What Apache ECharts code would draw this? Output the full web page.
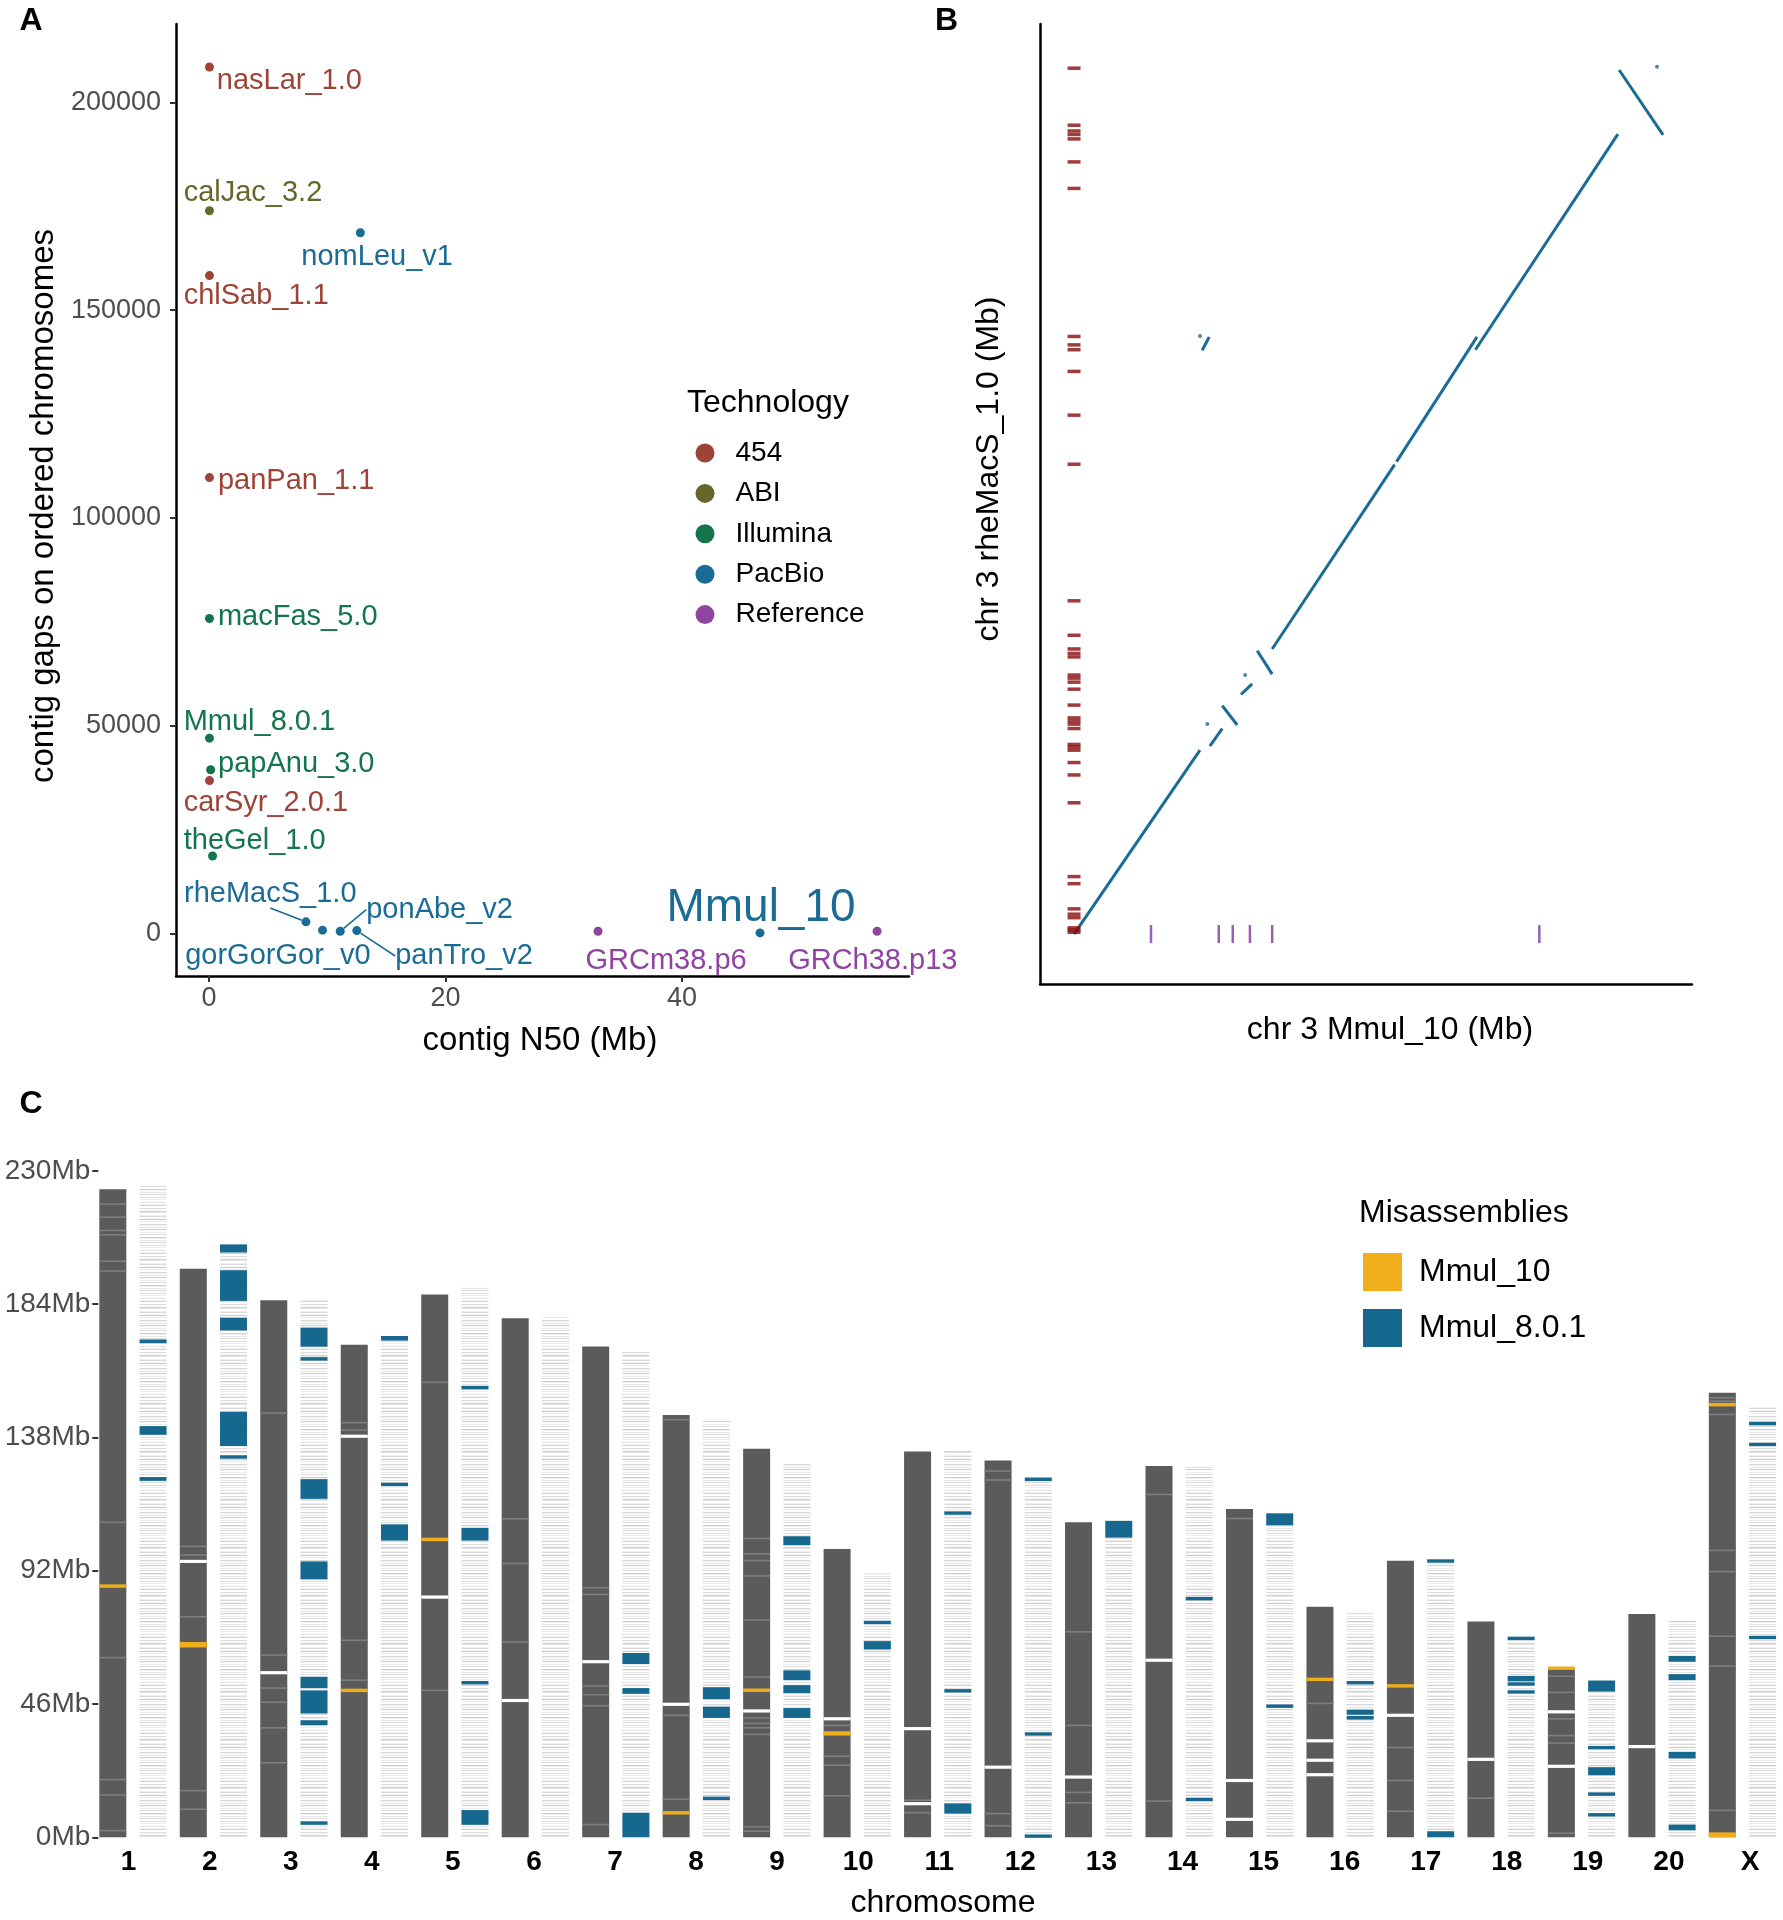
<!DOCTYPE html>
<html>
<head>
<meta charset="utf-8">
<script src="https://cdn.jsdelivr.net/npm/echarts@6/dist/echarts.min.js"></script>
<style>
html,body{margin:0;padding:0;background:#fff;}
#chart{width:1783px;height:1920px;}
</style>
</head>
<body>
<div id="chart"></div>
<script>
const FONT = '"Liberation Sans", Arial, Helvetica, sans-serif';

// ---------------- Panel A data ----------------
const assemblies = ['nasLar_1.0','calJac_3.2','nomLeu_v1','chlSab_1.1','panPan_1.1','macFas_5.0','Mmul_8.0.1','papAnu_3.0','carSyr_2.0.1','theGel_1.0','rheMacS_1.0','gorGorGor_v0','ponAbe_v2','panTro_v2','GRCm38.p6','Mmul_10','GRCh38.p13'];
const technology = ['454','ABI','PacBio','454','454','Illumina','Illumina','Illumina','454','Illumina','PacBio','PacBio','PacBio','PacBio','Reference','PacBio','Reference'];
const contigN50 = [0.04,0.04,12.8,0.04,0.04,0.04,0.04,0.14,0.04,0.3,8.2,9.6,11.1,12.5,32.9,46.6,56.5];
const contigGaps = [208500,173900,168600,158300,109700,75800,47000,39400,36800,18650,2800,800,550,700,550,150,550];
const techOrder = ['454','ABI','Illumina','PacBio','Reference'];
const xTicksA = [0,20,40];
const yTicksA = [0,50000,100000,150000,200000];

// ---------------- Panel B data (Mb) ----------------
const alignSegments = [
  [[0,0],[39.6,41.6]],
  [[42.7,42.5],[46.6,46.5]],
  [[46.6,51.7],[51.3,47.3]],
  [[52.5,54.2],[56.0,56.6]],
  [[57.6,64.1],[62.3,58.8]],
  [[62.3,64.5],[100.8,106.2]],
  [[101.4,106.9],[126.7,135.1]],
  [[126.2,132.2],[171.0,181.0]],
  [[171.4,195.5],[185.2,180.8]],
  [[40.3,132.1],[42.5,135.1]]
];
const alignDots = [[41.9,47.5],[53.8,58.6],[183.3,196.2],[39.6,135.3]];
const rheMacSGaps = [195.9,183.0,181.7,180.9,179.9,174.7,168.7,135.2,133.3,132.2,127.3,117.4,106.3,75.4,67.6,64.5,63.5,62.7,58.6,57.9,57.0,55.4,51.8,48.9,48.2,47.5,46.5,42.9,42.3,41.6,38.8,36.0,29.7,13.0,11.4,5.7,4.5,3.7,1.4,0.9,0.4];
const mmul10Chr3Gaps = [24.2,45.5,49.9,55.3,62.3,146.3];

// ---------------- Panel C data (Mb) ----------------
const chromosomes = ['1','2','3','4','5','6','7','8','9','10','11','12','13','14','15','16','17','18','19','20','X'];
const yTicksC = [0,46,92,138,184,230];
const mmul10Length = [223.6,196.2,185.3,170.0,187.3,179.1,169.4,145.7,134.1,99.5,133.1,130.0,108.7,128.1,113.3,79.6,95.4,74.5,58.3,77.1,153.4];
const mmul801Length = [224.8,204.6,185.7,173.0,190.1,179.8,168.1,144.1,128.9,91.0,133.5,124.4,109.2,127.9,111.8,77.3,95.8,69.1,54.1,75.0,148.4];
const mmul10Gaps = [
  [1,95.2],[2,56.8],[3,138.4],[4,82.9],[5,47.2],[6,60.6],[7,45.9],[8,43.6],[9,40.9],
  [10,37.5],[10,11.6],[11,24.2],[12,20.8],[13,61.1],[14,19.6],[14,6.2],
  [15,33.3],[15,26.6],[15,21.6],[16,42.1],[17,26.9],[18,43.3],[18,24.5],[19,31.3]
];
const mmul10MinorLines = [
  [0,218.5],[0,214],[0,209.4],[0,207.9],[0,198.8],[0,195.4],[0,108.7],[0,62],[0,19.9],[0,14.6],[0,2.3],
  [1,100.4],[1,97.4],[1,76.1],[1,16.1],[1,9.7],
  [2,146.4],[2,62.9],[2,51.5],[2,46.6],[2,37.8],[2,25.7],
  [3,143.1],[3,140.5],[3,68.0],[3,54.2],
  [4,157],[4,50.7],
  [5,109.9],[5,94.5],[5,67.4],
  [6,86.1],[6,83.8],[6,52.2],[6,49.2],[6,45.4],[6,4.4],
  [7,144.1],[7,42.1],[7,13.1],
  [8,103.1],[8,97.8],[8,95.5],[8,90.2],[8,75.0],[8,55.3],[8,41.2],[8,39.3],[8,37.8],[8,35.5],[8,3.6],[8,2.1],
  [9,38.6],[9,28],[9,24.9],[9,14.3],
  [10,12.8],[10,8.5],
  [11,126.4],[11,123.3],[11,8.2],[11,4.0],
  [12,70.9],[12,38.6],[12,15.5],[12,11.9],
  [13,118.3],[13,12.5],
  [14,110.0],
  [15,46.2],
  [16,31.0],[16,19.6],[16,9.0],
  [17,13.5],
  [18,55.6],[18,50.0],[18,40.9],[18,35.1],[18,32.5],[18,1.4],
  [20,151.7],[20,150.5],[20,145.9],[20,99.0],[20,91.7],[20,69.4],[20,59.1],[20,9.3]
];
const mmul10Misassemblies = [
  [0,86.2,87.2],[1,65.5,67.4],[3,50.1,51.3],[4,102.2,103.4],[7,7.9,9.0],[8,50.3,51.2],
  [9,35.1,36.6],[15,54.0,55.0],[16,51.8,52.7],[18,57.9,58.8],[20,148.7,149.9],[20,0,1.7]
];
const mmul801Misassemblies = [
  [0,170.5,171.8],[0,138.9,141.9],[0,123.0,124.3],
  [1,201.8,204.6],[1,185.1,195.7],[1,174.9,179.3],[1,135.0,146.8],[1,130.7,131.8],
  [2,169.3,175.9],[2,164.5,165.7],[2,116.8,123.6],[2,89.0,95.2],[2,51.5,55.4],[2,42.7,50.7],[2,38.7,40.4],[2,4.3,5.5],
  [3,171.4,173.0],[3,121.2,122.3],[3,102.4,108.0],
  [4,154.6,155.8],[4,102.4,106.8],[4,52.9,53.8],[4,4.3,9.4],
  [6,59.8,63.6],[6,49.5,51.5],[6,0,8.5],
  [7,47.7,51.8],[7,41.2,45.1],[7,12.9,14.0],
  [8,100.8,103.9],[8,54.2,57.6],[8,49.7,52.5],[8,41.2,44.6],
  [9,73.6,74.7],[9,64.8,67.7],
  [10,111.4,112.4],[10,50.1,51.0],[10,8.2,11.7],
  [11,123.0,124.0],[11,35.2,36.1],[11,0,0.8],
  [12,103.4,109.2],
  [13,81.9,82.8],[13,12.6,13.5],
  [14,107.7,111.8],[14,44.8,45.7],
  [15,52.9,53.8],[15,42.3,44.0],[15,40.6,41.9],
  [16,94.9,95.8],[16,0,2.1],
  [17,68.2,69.1],[17,53.8,55.7],[17,52.4,53.4],[17,49.7,50.6],
  [18,50.3,54.1],[18,30.5,31.4],[18,21.4,24.2],[18,14.4,15.4],[18,7.3,8.2],
  [19,60.6,62.6],[19,54.2,56.3],[19,27.2,29.5],[19,2.4,4.4],
  [20,142.3,143.2],[20,135.1,136.0],[20,68.5,69.4]
];

// ---------------- styling ----------------
const techColors = {'454':'#9E4338','ABI':'#66662A','Illumina':'#13754B','PacBio':'#1B6C95','Reference':'#8E44A0'};
const labelOffset = {
  'nasLar_1.0':[7.3,14],'calJac_3.2':[-25.8,-17.5],'nomLeu_v1':[-59,24.2],'chlSab_1.1':[-25.8,20.4],
  'panPan_1.1':[8.5,3.3],'macFas_5.0':[8.5,-1.6],'Mmul_8.0.1':[-25.8,-16],'papAnu_3.0':[7.4,-5.8],
  'carSyr_2.0.1':[-25.8,22.6],'theGel_1.0':[-28.8,-15],'rheMacS_1.0':[-121.9,-28.3],'gorGorGor_v0':[-137.3,25.7],
  'ponAbe_v2':[26,-21.7],'panTro_v2':[38.4,25.4],'GRCm38.p6':[-12.5,29.7],'Mmul_10':[-93.6,-25],'GRCh38.p13':[-88.9,29.7]
};
const leaderLine = {
  'rheMacS_1.0':[[0.4,-2],[-11.9,-18.3]],
  'ponAbe_v2':[[1.6,-5.3],[22,-15.6]],
  'panTro_v2':[[1.9,2.4],[35,20.4]]
};
const stripeLevels = [255,255,226,255,238,212,255,255,222,244,255,208,230,255,255,238,218,255,248,204,255,234,255,255,216,240,255,226,255,210,248,255,236,255,220,255,255,206,243,255,230,255,216,255,248,224,255,238];
const stripeCanvas = document.createElement('canvas');
stripeCanvas.width = 4; stripeCanvas.height = stripeLevels.length;
(function(){ const g = stripeCanvas.getContext('2d'); stripeLevels.forEach((v,i)=>{ g.fillStyle='rgb('+v+','+v+','+v+')'; g.fillRect(0,i,4,1); }); })();

const COL_OFF = 0.25, COL_W = 0.3355;
function colGeom(api, ci, col){
  const bw = api.size([1,0])[0];
  const c = api.coord([ci, 0]);
  const cx = c[0] + (col === 0 ? -bw*COL_OFF : bw*COL_OFF);
  const w = bw*COL_W;
  return {x: cx - w/2, w: w};
}
function bandRender(col, minPx, fillFn){
  return function(params, api){
    const ci = api.value(0);
    const g = colGeom(api, ci, col);
    const pb = api.coord([ci, api.value(1)]);
    const pt = api.coord([ci, api.value(2)]);
    let top = pt[1], h = pb[1]-pt[1];
    if (h < minPx){ const m = (pb[1]+pt[1])/2; top = m - minPx/2; h = minPx; }
    return {type:'rect', shape:{x:g.x, y:top, width:g.w, height:h}, style: fillFn ? fillFn(api) : api.style()};
  };
}
function lineRender(col, px, color){
  return function(params, api){
    const ci = api.value(0);
    const g = colGeom(api, ci, col);
    const p = api.coord([ci, api.value(1)]);
    return {type:'rect', shape:{x:g.x, y:p[1]-px/2, width:g.w, height:px}, style:{fill:color}};
  };
}

// ---------------- series ----------------
const series = [];
techOrder.forEach(t => {
  const items = [];
  assemblies.forEach((a,i) => {
    if (technology[i] !== t) return;
    const it = {name:a, value:[contigN50[i], contigGaps[i]]};
    if (a === 'Mmul_10') it.label = {fontSize:46};
    if (leaderLine[a]) it.labelLine = {show:true};
    items.push(it);
  });
  series.push({
    type:'scatter', name:t, xAxisIndex:0, yAxisIndex:0, symbolSize:9,
    itemStyle:{color:techColors[t], opacity:1},
    data: items,
    label:{show:true, formatter:'{b}', color:techColors[t], fontSize:29, fontFamily:FONT},
    labelLine:{show:false, lineStyle:{color:techColors[t], width:1.6}},
    labelLayout: function(p){
      const o = labelOffset[p.text] || [6,0];
      const cx = p.rect.x + p.rect.width/2, cy = p.rect.y + p.rect.height/2;
      const res = {x: cx+o[0], y: cy+o[1], align:'left', verticalAlign:'middle'};
      const ll = leaderLine[p.text];
      if (ll) res.labelLinePoints = [[cx+ll[0][0], cy+ll[0][1]], [cx+ll[1][0], cy+ll[1][1]], [cx+ll[1][0], cy+ll[1][1]]];
      return res;
    }
  });
});

// Panel B
series.push({
  type:'lines', name:'alignment', coordinateSystem:'cartesian2d', xAxisIndex:1, yAxisIndex:1,
  polyline:false, silent:true,
  lineStyle:{color:'#1B6C95', width:3, opacity:1},
  data: alignSegments.map(s => ({coords:s}))
});
series.push({
  type:'scatter', name:'alignment dots', xAxisIndex:1, yAxisIndex:1, symbolSize:4, silent:true,
  itemStyle:{color:'#1B6C95'}, data: alignDots
});
series.push({
  type:'scatter', name:'rheMacS gaps', xAxisIndex:1, yAxisIndex:1, symbol:'rect', symbolSize:[13,3.5], silent:true,
  itemStyle:{color:'#870B0B'}, data: rheMacSGaps.map(y => [0,y])
});
series.push({
  type:'scatter', name:'Mmul_10 gaps', xAxisIndex:1, yAxisIndex:1, symbol:'rect', symbolSize:[2.5,18], silent:true,
  itemStyle:{color:'#7E3AA6'}, data: mmul10Chr3Gaps.map(x => [x,0])
});

// Panel C
series.push({
  type:'custom', name:'Mmul_10 chromosome', xAxisIndex:2, yAxisIndex:2, silent:true, z:2,
  itemStyle:{color:'#5B5B5B'},
  renderItem: bandRender(0, 1),
  data: mmul10Length.map((v,i) => [i,0,v])
});
series.push({
  type:'custom', name:'Mmul_8.0.1 chromosome', xAxisIndex:2, yAxisIndex:2, silent:true, z:2,
  itemStyle:{color:'#eeeeee'},
  renderItem: bandRender(1, 1, () => ({fill:{image:stripeCanvas, repeat:'repeat'}})),
  data: mmul801Length.map((v,i) => [i,0,v])
});
series.push({
  type:'custom', name:'Mmul_10 minor', xAxisIndex:2, yAxisIndex:2, silent:true, z:3,
  renderItem: lineRender(0, 1.6, '#7f7f7f'),
  data: mmul10MinorLines
});
series.push({
  type:'custom', name:'Mmul_10 gaps', xAxisIndex:2, yAxisIndex:2, silent:true, z:4,
  renderItem: lineRender(0, 3.2, '#ffffff'),
  data: mmul10Gaps
});
series.push({
  type:'custom', name:'Mmul_10', xAxisIndex:2, yAxisIndex:2, silent:true, z:5,
  itemStyle:{color:'#F0AE1B'},
  renderItem: bandRender(0, 3.4),
  data: mmul10Misassemblies
});
series.push({
  type:'custom', name:'Mmul_8.0.1', xAxisIndex:2, yAxisIndex:2, silent:true, z:5,
  itemStyle:{color:'#16688E'},
  renderItem: bandRender(1, 3.4),
  data: mmul801Misassemblies
});

const axisLineBlack = {show:true, onZero:false, lineStyle:{color:'#000', width:2.5}};
const tickLabel = {fontSize:27, color:'#4d4d4d', fontFamily:FONT};

const option = {
  animation:false,
  backgroundColor:'#fff',
  textStyle:{fontFamily:FONT},
  grid:[
    {left:176, top:24, width:733, height:952},
    {left:1040, top:24, width:652, height:960},
    {left:92.7, top:1170.8, width:1690, height:666.5},
    {left:128.6, top:1170.8, width:1621.4, height:666.5}
  ],
  xAxis:[
    {type:'value', gridIndex:0, min:-2.79, max:59.2, axisLine:axisLineBlack,
     axisTick:{show:true, length:6, lineStyle:{color:'#333', width:2}, customValues:xTicksA},
     axisLabel:Object.assign({customValues:xTicksA, margin:9}, tickLabel), splitLine:{show:false}},
    {type:'value', gridIndex:1, min:-10.7, max:194.3, axisLine:axisLineBlack,
     axisTick:{show:false}, axisLabel:{show:false}, splitLine:{show:false}},
    {type:'category', gridIndex:2, data:chromosomes, axisLine:{show:false}, axisTick:{show:false},
     axisLabel:{show:false}, splitLine:{show:false}},
    {type:'category', gridIndex:3, data:chromosomes, boundaryGap:false, axisLine:{show:false}, axisTick:{show:false},
     axisLabel:{fontSize:28, fontWeight:'bold', color:'#000', margin:11, fontFamily:FONT, interval:0}, splitLine:{show:false}}
  ],
  yAxis:[
    {type:'value', gridIndex:0, min:-10226, max:218840, axisLine:axisLineBlack,
     axisTick:{show:true, length:6, lineStyle:{color:'#333', width:2}, customValues:yTicksA},
     axisLabel:Object.assign({customValues:yTicksA, margin:15, formatter: v => String(v)}, tickLabel), splitLine:{show:false}},
    {type:'value', gridIndex:1, min:-11.3, max:205.9, axisLine:axisLineBlack,
     axisTick:{show:false}, axisLabel:{show:false}, splitLine:{show:false}},
    {type:'value', gridIndex:2, min:0, max:230, interval:46, offset:-5.6,
     axisLine:{show:false, onZero:false},
     axisTick:{show:true, length:6, lineStyle:{color:'#333', width:2}},
     axisLabel:{formatter:'{value}Mb', fontSize:28, color:'#4d4d4d', margin:8, fontFamily:FONT}, splitLine:{show:false}},
    {type:'value', gridIndex:3, min:0, max:230, show:false}
  ],
  legend:[
    {data:techOrder, orient:'vertical', left:690.5, top:434, itemWidth:19, itemHeight:19, itemGap:12.4,
     icon:'circle', selectedMode:false,
     textStyle:{fontSize:28, color:'#000', padding:[0,0,0,16], fontFamily:FONT}},
    {data:['Mmul_10','Mmul_8.0.1'], orient:'vertical', left:1358, top:1248, itemWidth:39, itemHeight:38, itemGap:18,
     icon:'rect', selectedMode:false,
     textStyle:{fontSize:32, color:'#000', lineHeight:38, padding:[0,0,0,12], fontFamily:FONT}}
  ],
  graphic:[
    {type:'text', x:31, y:21, style:{text:'A', fontSize:32, fontWeight:'bold', fill:'#000', align:'center', verticalAlign:'middle', fontFamily:FONT}},
    {type:'text', x:946.6, y:21, style:{text:'B', fontSize:32, fontWeight:'bold', fill:'#000', align:'center', verticalAlign:'middle', fontFamily:FONT}},
    {type:'text', x:31, y:1104.6, style:{text:'C', fontSize:32, fontWeight:'bold', fill:'#000', align:'center', verticalAlign:'middle', fontFamily:FONT}},
    {type:'text', x:540, y:1041, style:{text:'contig N50 (Mb)', fontSize:33, fill:'#000', align:'center', verticalAlign:'middle', fontFamily:FONT}},
    {type:'text', x:44, y:506, rotation:Math.PI/2, style:{text:'contig gaps on ordered chromosomes', fontSize:33, fill:'#000', align:'center', verticalAlign:'middle', fontFamily:FONT}},
    {type:'text', x:687, y:403, style:{text:'Technology', fontSize:32, fill:'#000', align:'left', verticalAlign:'middle', fontFamily:FONT}},
    {type:'text', x:1390, y:1030, style:{text:'chr 3 Mmul_10 (Mb)', fontSize:32, fill:'#000', align:'center', verticalAlign:'middle', fontFamily:FONT}},
    {type:'text', x:989.5, y:469, rotation:Math.PI/2, style:{text:'chr 3 rheMacS_1.0 (Mb)', fontSize:32, fill:'#000', align:'center', verticalAlign:'middle', fontFamily:FONT}},
    {type:'text', x:943, y:1903, style:{text:'chromosome', fontSize:32, fill:'#000', align:'center', verticalAlign:'middle', fontFamily:FONT}},
    {type:'text', x:1359, y:1213.6, style:{text:'Misassemblies', fontSize:32, fill:'#000', align:'left', verticalAlign:'middle', fontFamily:FONT}}
  ],
  series: series
};

const chart = echarts.init(document.getElementById('chart'), null, {renderer:'canvas', width:1783, height:1920});
chart.setOption(option);
</script>
</body>
</html>
